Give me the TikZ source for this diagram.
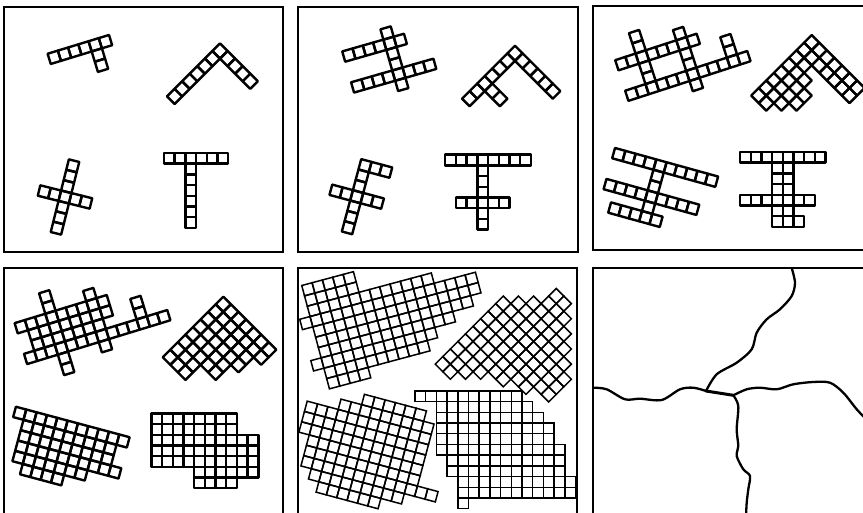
\documentclass[tikz,border=0pt]{standalone}
\usepackage{tikz}
\tikzset{
	frame/.style={line width=1.8pt},
	cell/.style={line width=2.4pt,line join=round},
	fine/.style={line width=1.5pt},
	bound/.style={line width=2.3pt,line cap=round,line join=round}
}
\pgfmathsetmacro{\cs}{10.7}
% #2 = centre of cell (0,0), #3 = angle, #4 = rows j/i1/i2
\newcommand{\grain}[4][cell]{%
	\begin{scope}[shift={#2},rotate=#3,scale=\cs]
	\foreach \j/\a/\b in {#4}
		\foreach \i in {\a,...,\b}
			\draw[#1] (\i-0.5,\j-0.5) rectangle ++(1,1);
	\end{scope}}

\begin{document}
\begin{tikzpicture}[x=1pt,y=1pt]
\useasboundingbox (0,0) rectangle (863,512);
\clip (0,0) rectangle (863,512);
\draw[frame] (4,260) rectangle (283,505);
\draw[frame] (298,260) rectangle (578,505);
\draw[frame] (593,262) rectangle (870,506);
\draw[frame] (4,-5) rectangle (283,244);
\draw[frame] (298,-5) rectangle (577,244);
\draw[frame] (593,-5) rectangle (870,244);
% stage 1
\grain{(54.3,454.7)}{17}{0/0/5,-1/4/4,-2/4/4}
\grain{(220,461)}{45}{0/-6/0,-1/0/0,-2/0/0,-3/0/0,-4/0/0}
\grain{(65,315)}{-14}{0/-2/2,3/0/0,2/0/0,1/0/0,-1/0/0,-2/0/0,-3/0/0}
\grain{(190.7,353.7)}{0}{0/-2/3,-1/0/0,-2/0/0,-3/0/0,-4/0/0,-5/0/0,-6/0/0}
% stage 2
\grain{(390,468.7)}{16}{0/-4/1,1/0/0,-1/0/0,-2/0/0,-3/-4/3,-4/0/0}
\grain{(515,458.7)}{45}{0/-6/0,-1/0/0,-2/0/0,-3/0/0,-4/0/0,-5/0/0,-1/-4/-4,-2/-4/-4}
\grain{(356.7,315.3)}{-15}{0/-2/2,3/0/2,2/0/0,1/0/0,-1/0/0,-2/0/0,-3/0/0}
\grain{(482.7,352)}{0}{0/-3/4,-1/0/0,-2/0/0,-3/0/0,-4/-2/2,-5/0/0,-6/0/0}
% stage 3
\grain{(642.3,455)}{18}{0/-2/5,-3/-2/9,2/0/0,1/0/0,-1/0/0,-2/0/0,1/4/4,-1/4/4,-2/4/4,-4/4/4,-1/8/8,-2/8/8}
\grain{(811.7,469.4)}{45}{0/-7/0,-1/-7/0,-2/-6/-3,-2/-1/0,-3/-5/-4,-3/-1/0,-4/-1/0,-5/-1/0,-6/-1/0}
\grain{(660,346)}{-15.5}{0/-4/5,-3/-4/4,-5/-3/1,-1/0/0,-2/0/0,-4/0/0}
\grain{(745.35,354.7)}{0}{0/0/7,-1/3/4,-2/3/4,-3/3/4,-4/0/6,-5/3/4,-6/3/5}
% stage 4
\grain{(21.3,185.3)}{17}{0/0/8,1/3/3,2/3/3,1/7/7,-1/1/8,-2/1/7,-3/0/13,-4/3/3,-5/3/3,-4/7/7,-1/11/11,-2/11/11}
\grain{(223.3,207.7)}{45}{0/-7/0,-1/-7/0,-2/-7/0,-3/-5/0,-4/-5/0,-5/-3/0,-6/-1/0}
\grain{(19.7,98.7)}{-15}{0/0/10,-1/1/9,-2/1/9,-3/1/10,-4/1/7,-5/2/5}
\grain{(156.7,93.3)}{0}{0/0/7,-1/0/7,-2/0/9,-3/0/9,-4/0/9,-5/4/9,-6/4/7}
% stage 5
\grain[fine]{(308.3,222.7)}{15}{0/0/4,-1/0/4,-2/0/11,-3/-1/15,-4/0/15,-5/0/14,-6/0/12,-7/-1/10,-8/0/9,-9/0/3}
\grain[fine]{(503.3,208.4)}{45}{0/-8/0,-1/-8/1,-2/-7/2,-3/-6/4,-4/-5/4,-5/-5/3,-6/-4/2,-7/-4/1,-8/-3/0,-9/-3/-1}
\grain[fine]{(311,104.3)}{-15}{2/5/10,1/3/11,0/0/11,-1/0/11,-2/0/11,-3/1/11,-4/1/11,-5/1/13,-6/2/10,-7/3/8}
\grain[fine]{(420.3,115.7)}{0}{0/0/9,-1/2/10,-2/2/11,-3/2/12,-4/2/12,-5/2/13,-6/3/13,-7/3/13,-8/4/14,-9/4/14,-10/4/4}
% stage 6
\coordinate (j1) at (706,121);
\coordinate (j2) at (733.3,116.7);
\draw[bound] plot[smooth] coordinates {(593.3,124.3) (606.7,122.7) (625,112.7) (640,113.3) (661.7,112) (680,122.7) (693.3,124.3) (706,121)};
\draw[bound] plot[smooth] coordinates {(706,121) (716.7,137.7) (736.7,149.3) (751.7,162.7) (756.7,179.3) (766.7,192.7) (780,202.7) (791.7,216) (795,229.3) (791.7,244)};
\draw[bound] plot[smooth] coordinates {(733.3,116.7) (746.7,122.7) (760,124.3) (776.7,122.7) (793.3,127.7) (813.3,130) (830,129.3) (843.3,119.3) (856.7,102.7) (866,93)};
\draw[bound] plot[smooth] coordinates {(733.3,116.7) (738.3,106) (736.7,82.7) (738.3,66) (736.7,56) (743.3,42.7) (750,36) (748.3,22.7) (746.7,9.3) (746,-5)};
\draw[bound,line width=3pt] (j1) -- (j2);
\end{tikzpicture}
\end{document}
